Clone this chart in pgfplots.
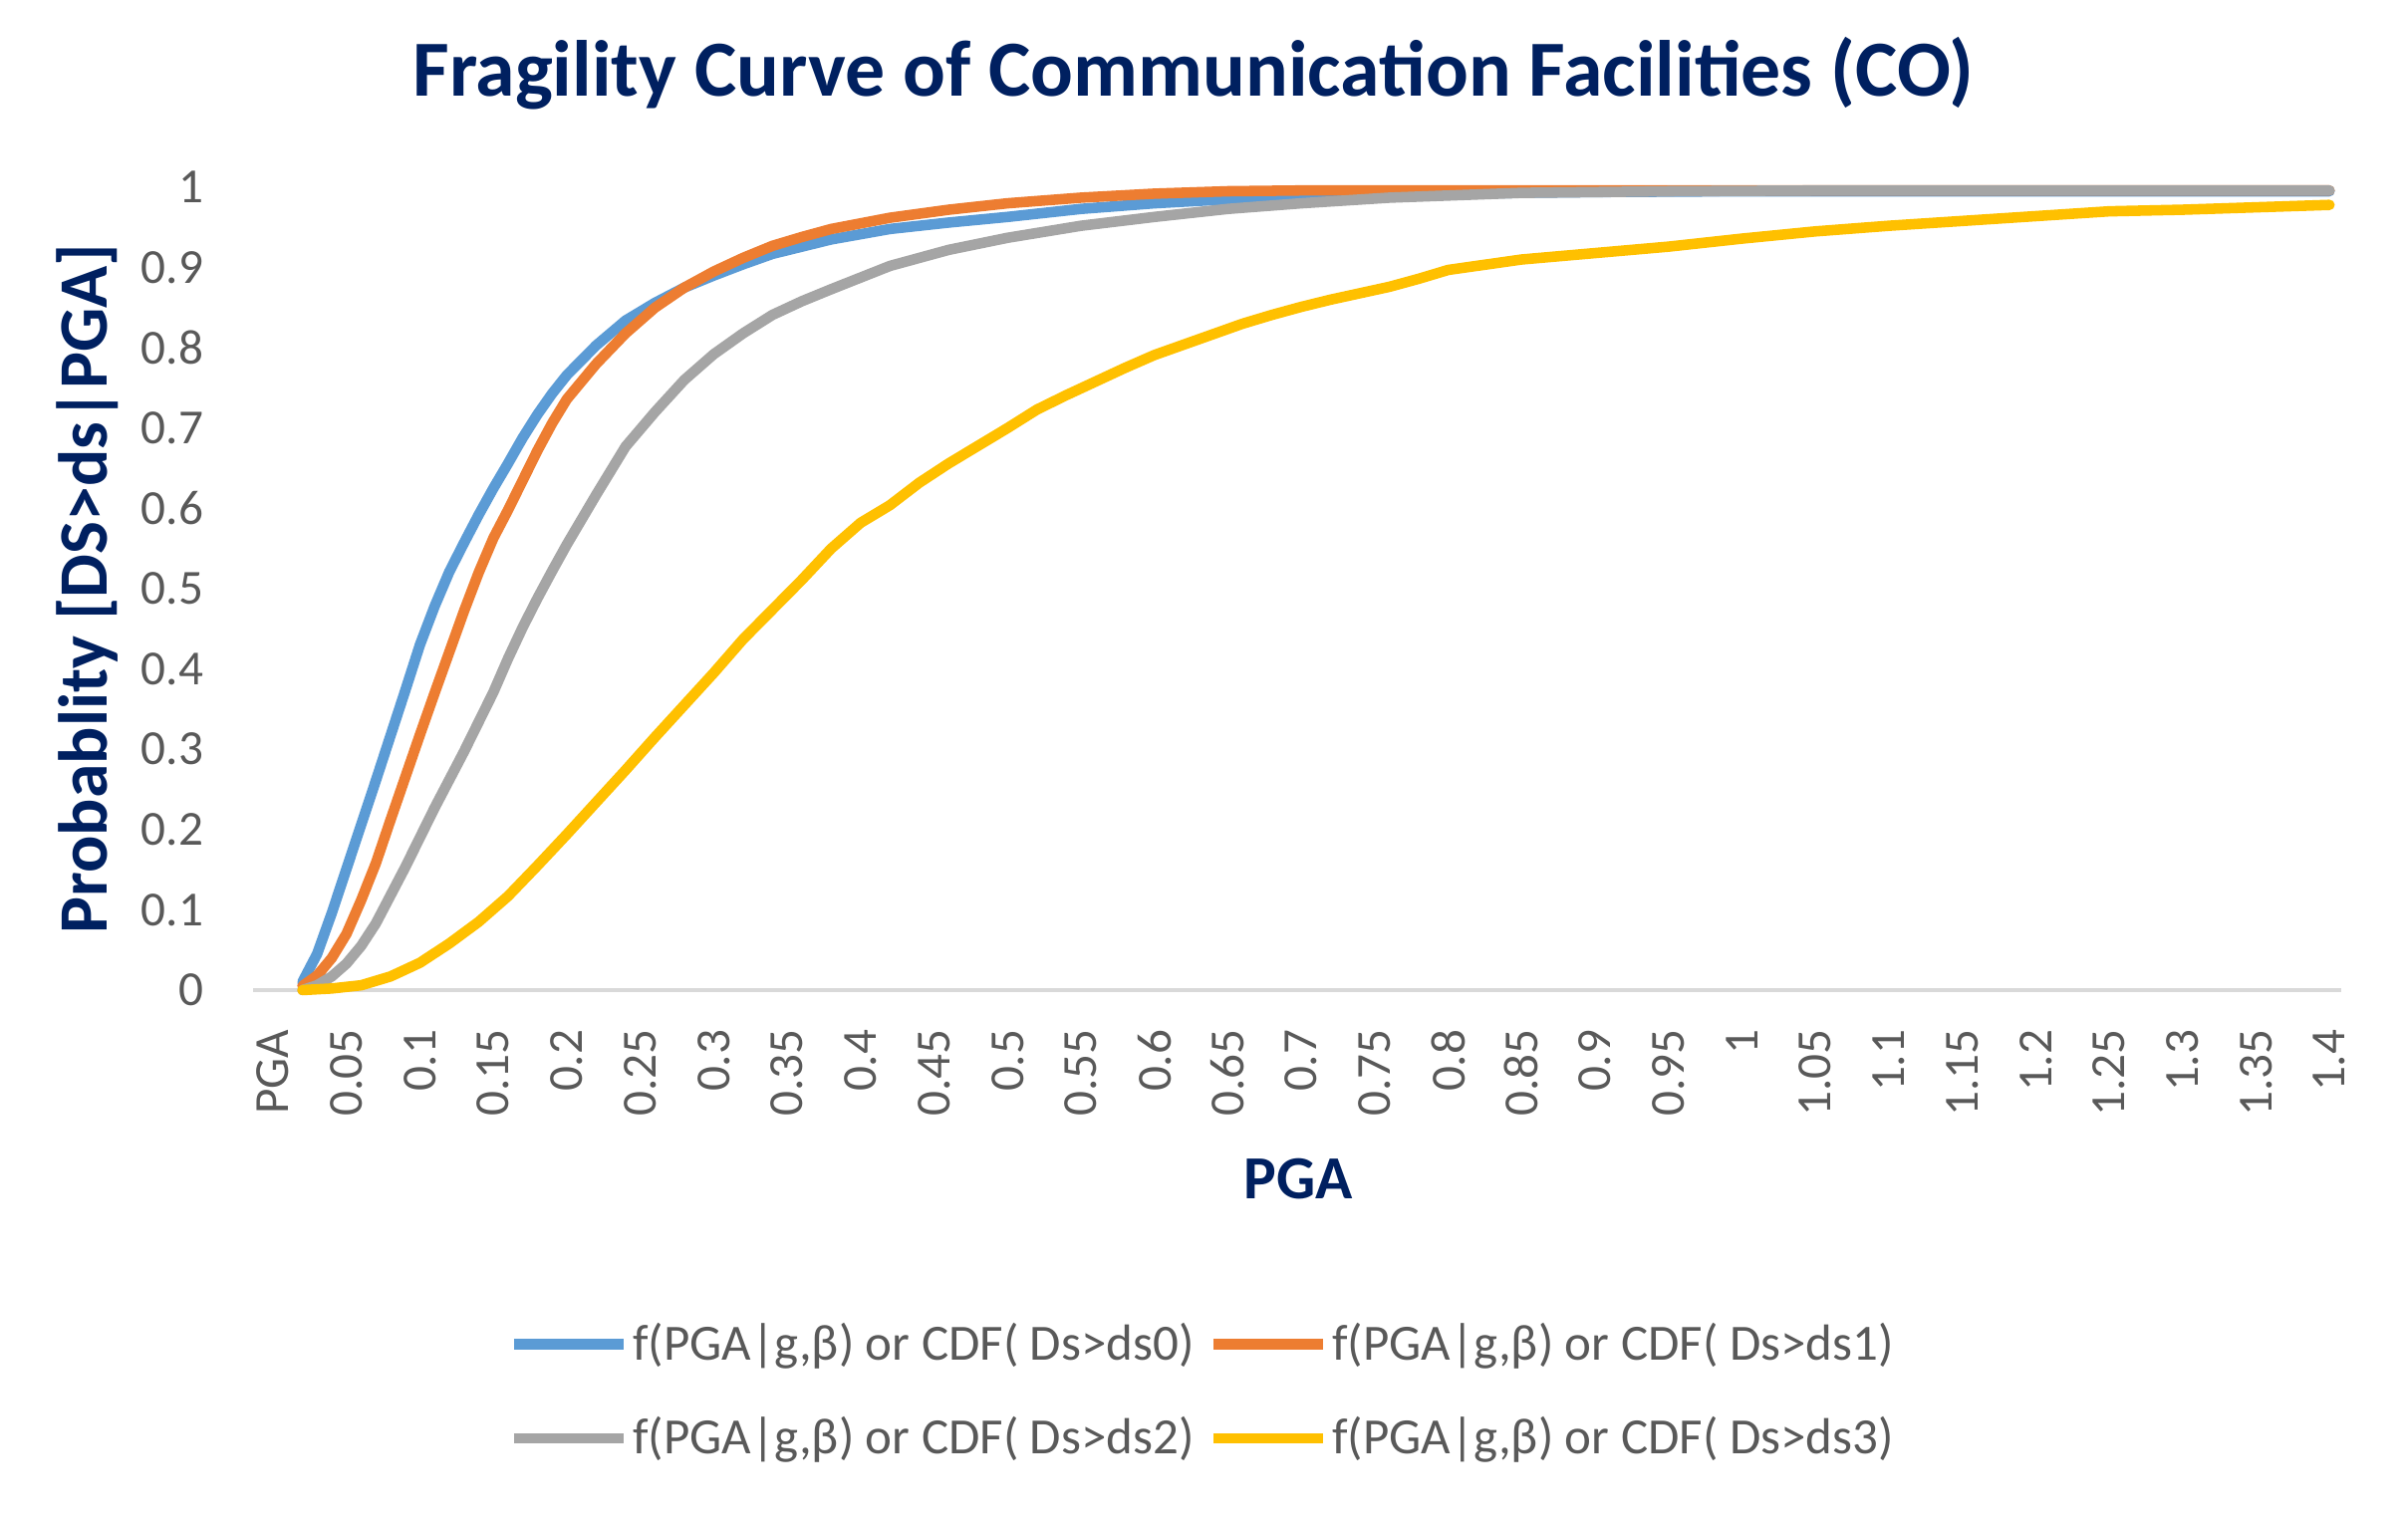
\documentclass[border=0pt]{standalone}
\usepackage{fontspec}
\setmainfont{Carlito}
\usepackage{pgfplots}
\pgfplotsset{compat=1.18}
\definecolor{cBlue}{HTML}{5B9BD5}
\definecolor{cOrange}{HTML}{ED7D31}
\definecolor{cGrey}{HTML}{A5A5A5}
\definecolor{cYellow}{HTML}{FFC000}
\definecolor{cNavy}{HTML}{002060}
\definecolor{cTick}{HTML}{595959}
\definecolor{cAxis}{HTML}{D9D9D9}
\begin{document}
\begin{tikzpicture}
\path[use as bounding box] (0,0) rectangle (241.7mm,153.1mm);
\begin{axis}[
  at={(25.4mm,53.7mm)}, anchor=south west,
  scale only axis, width=209.6mm, height=80.6mm,
  xmin=-0.0136, xmax=1.408, ymin=0, ymax=1,
  clip=false,
  axis line style={draw=none},
  major tick length=0pt,
  tick style={draw=none},
  /pgf/number format/assume math mode=true,
  xtick={0,0.05,0.1,0.15,0.2,0.25,0.3,0.35,0.4,0.45,0.5,0.55,0.6,0.65,0.7,0.75,0.8,0.85,0.9,0.95,1,1.05,1.1,1.15,1.2,1.25,1.3,1.35,1.4},
  xticklabels={PGA,0.05,0.1,0.15,0.2,0.25,0.3,0.35,0.4,0.45,0.5,0.55,0.6,0.65,0.7,0.75,0.8,0.85,0.9,0.95,1,1.05,1.1,1.15,1.2,1.25,1.3,1.35,1.4},
  ytick={0,0.1,0.2,0.3,0.4,0.5,0.6,0.7,0.8,0.9,1},
  yticklabels={0,0.1,0.2,0.3,0.4,0.5,0.6,0.7,0.8,0.9,1},
  tick label style={font=\fontsize{14}{16}\selectfont, color=cTick},
  xticklabel style={inner sep=0pt, yshift=-3.9mm, rotate=90, anchor=east},
  yticklabel style={inner sep=0pt, anchor=east, xshift=-4.9mm},
  title={Fragility Curve of Communication Facilities (CO)},
  every axis title/.style={at={(axis description cs:0.4504,1.1141)}, anchor=base, font=\fontsize{22.7}{26}\selectfont\bfseries, color=cNavy},
  xlabel={PGA},
  every axis x label/.style={at={(axis description cs:0.5005,-0.2357)}, anchor=center, font=\fontsize{17.5}{21}\selectfont\bfseries, color=cNavy},
  ylabel={Probablity [DS>ds|PGA]},
  every axis y label/.style={at={(axis description cs:-0.0792,0.5)}, rotate=90, anchor=center, font=\fontsize{19.8}{23}\selectfont\bfseries, color=cNavy},
  legend columns=2,
  legend cell align=left,
  legend style={at={(axis description cs:0.455,-0.4994)}, anchor=center, draw=none, fill=none,
    font=\fontsize{14.5}{17}\selectfont, text=cTick, row sep=4.4mm,
    nodes={inner sep=0.4mm},
    /tikz/every even column/.append style={column sep=1.0mm}},
  legend image code/.code={\draw[#1, line width=3pt, line cap=butt] (0mm,0mm) -- (11mm,0mm);},
  every axis plot/.append style={line width=3pt, line join=round, line cap=round},
]
\draw[cAxis, line width=1.3pt] (rel axis cs:0,0) -- (rel axis cs:1,0);
% ds0
\addplot[cBlue] coordinates {
(0.02,0.010) (0.03,0.045) (0.04,0.096) (0.05,0.151) (0.06,0.206) (0.07,0.261)
(0.08,0.317) (0.09,0.373) (0.10,0.430) (0.11,0.478) (0.12,0.521) (0.13,0.557)
(0.14,0.592) (0.15,0.625) (0.16,0.656) (0.17,0.688) (0.18,0.717) (0.19,0.743)
(0.20,0.766) (0.22,0.803) (0.24,0.834) (0.26,0.856) (0.28,0.875) (0.30,0.890)
(0.32,0.904) (0.34,0.917) (0.36,0.926) (0.38,0.935) (0.42,0.948) (0.46,0.956)
(0.50,0.963) (0.55,0.973) (0.60,0.980) (0.65,0.985) (0.70,0.988) (0.80,0.992)
(0.90,0.994) (1.00,0.995) (1.20,0.995) (1.40,0.995)};
\addlegendentry{f(PGA|g,β) or CDF( Ds>ds0)}
% ds1
\addplot[cOrange] coordinates {
(0.02,0.005) (0.03,0.018) (0.04,0.040) (0.05,0.070) (0.06,0.112) (0.07,0.158)
(0.08,0.212) (0.09,0.265) (0.10,0.318) (0.11,0.370) (0.12,0.421) (0.13,0.472)
(0.14,0.520) (0.15,0.563) (0.16,0.598) (0.17,0.635) (0.18,0.672) (0.19,0.706)
(0.20,0.736) (0.22,0.780) (0.24,0.818) (0.26,0.850) (0.28,0.875) (0.30,0.895)
(0.32,0.912) (0.34,0.927) (0.36,0.938) (0.38,0.948) (0.42,0.962) (0.46,0.972)
(0.50,0.980) (0.55,0.987) (0.60,0.992) (0.65,0.995) (0.70,0.996) (0.80,0.996)
(0.90,0.996) (1.40,0.996)};
\addlegendentry{f(PGA|g,β) or CDF( Ds>ds1)}
% ds2
\addplot[cGrey] coordinates {
(0.02,0.000) (0.03,0.006) (0.04,0.017) (0.05,0.033) (0.06,0.055) (0.07,0.083)
(0.08,0.118) (0.09,0.153) (0.10,0.190) (0.11,0.227) (0.12,0.262) (0.13,0.297)
(0.14,0.334) (0.15,0.371) (0.16,0.413) (0.17,0.452) (0.18,0.488) (0.19,0.522)
(0.20,0.555) (0.22,0.617) (0.24,0.677) (0.26,0.720) (0.28,0.760) (0.30,0.792)
(0.32,0.818) (0.34,0.841) (0.36,0.858) (0.38,0.873) (0.42,0.902) (0.46,0.922)
(0.50,0.937) (0.55,0.952) (0.60,0.963) (0.65,0.973) (0.70,0.980) (0.76,0.987)
(0.85,0.993) (0.95,0.995) (1.05,0.996) (1.20,0.996) (1.40,0.996)};
\addlegendentry{f(PGA|g,β) or CDF( Ds>ds2)}
% ds3
\addplot[cYellow] coordinates {
(0.02,0.000) (0.04,0.002) (0.06,0.006) (0.08,0.017) (0.10,0.034) (0.12,0.058)
(0.14,0.085) (0.16,0.117) (0.18,0.155) (0.20,0.194) (0.22,0.234) (0.24,0.274)
(0.26,0.315) (0.28,0.355) (0.30,0.395) (0.32,0.437) (0.34,0.474) (0.36,0.511)
(0.38,0.550) (0.40,0.582) (0.42,0.604) (0.44,0.632) (0.46,0.656) (0.48,0.678)
(0.50,0.700) (0.52,0.723) (0.54,0.741) (0.56,0.758) (0.58,0.775) (0.60,0.791)
(0.62,0.804) (0.64,0.817) (0.66,0.830) (0.68,0.841) (0.70,0.851) (0.72,0.860)
(0.74,0.868) (0.76,0.876) (0.78,0.886) (0.80,0.897) (0.85,0.910) (0.90,0.918)
(0.95,0.926) (1.00,0.936) (1.05,0.945) (1.10,0.952) (1.15,0.958) (1.20,0.964)
(1.25,0.970) (1.30,0.972) (1.35,0.975) (1.40,0.978)};
\addlegendentry{f(PGA|g,β) or CDF( Ds>ds3)}
\end{axis}
\end{tikzpicture}
\end{document}
